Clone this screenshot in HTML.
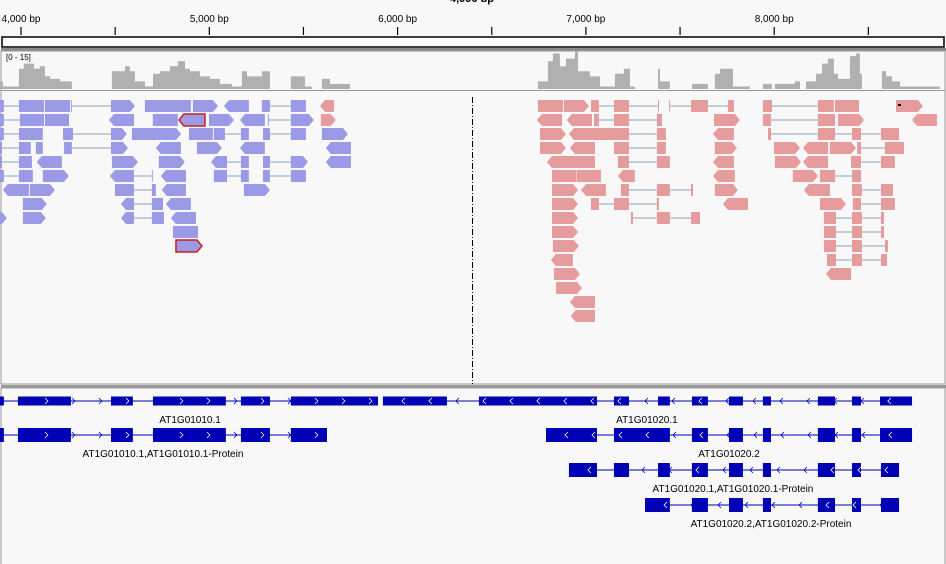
<!DOCTYPE html>
<html><head><meta charset="utf-8">
<style>
html,body{margin:0;padding:0;background:#f8f8f8;}
#wrap{position:relative;width:946px;height:564px;overflow:hidden;background:#f8f8f8;font-family:"Liberation Sans",sans-serif;}
svg{position:absolute;left:0;top:0;}
</style></head>
<body>
<div id="wrap">
<svg id="chart" width="946" height="564"></svg>
</div>
<script>
// ---- data ----
const tickBp = [4000,4500,5000,5500,6000,6500,7000,7500,8000,8500];
const tickLabels = {4000:"4,000 bp",5000:"5,000 bp",6000:"6,000 bp",7000:"7,000 bp",8000:"8,000 bp"};
const covMax = 15;
const coverage = [[3888,3],[3904,1],[3989,8],[4015,10],[4069,8],[4100,9],[4127,5],[4154,4],[4207,3],[4270,0],[4483,7],[4552,9],[4578,7],[4605,3],[4658,1],[4701,6],[4738,7],[4791,9],[4833,11],[4871,8],[4897,7],[4950,5],[5003,4],[5056,2],[5120,1],[5173,7],[5200,5],[5279,7],[5322,0],[5433,5],[5508,1],[5545,0],[5598,4],[5641,2],[5747,0],[6745,3],[6798,11],[6825,14],[6862,9],[6894,12],[6942,15],[6958,7],[7021,5],[7075,1],[7154,6],[7202,8],[7234,1],[7260,0],[7383,8],[7393,3],[7446,0],[7563,2],[7648,0],[7685,6],[7712,8],[7781,1],[7871,0],[7940,2],[7988,0],[8004,2],[8110,3],[8137,0],[8169,3],[8222,6],[8254,10],[8285,12],[8317,6],[8339,4],[8402,13],[8434,14],[8455,6],[8466,0],[8572,7],[8594,5],[8626,3],[8668,1],[8880,0]];
// reads: [row, strand, colour(b=blue,p=pink,r=red-outlined), blocks...]
const reads = [
[0,'','b',[3888,3909,3989,4122]],[0,'','b',[4127,4260]],[0,'+','b',[4265,4270,4478,4605]],[0,'','b',[4658,4902]],[0,'+','b',[4913,5046]],[0,'-','b',[5078,5210]],[0,'','b',[5279,5322,5433,5513]],[0,'-','p',[5588,5662]],
[1,'','b',[3888,3909,3994,4122]],[1,'','b',[4127,4255]],[1,'-','b',[4467,4600]],[1,'','b',[4700,4833]],[1,'-','r',[4839,4977]],[1,'+','b',[4998,5131]],[1,'-','b',[5163,5295]],[1,'+','b',[5311,5316,5433,5555]],[1,'+','p',[5593,5672]],
[2,'','b',[3888,3909,3989,4116]],[2,'+','b',[4223,4276,4478,4562]],[2,'+','b',[4589,4850]],[2,'','b',[4892,5019]],[2,'','b',[5024,5083,5168,5210]],[2,'','b',[5285,5322,5433,5513]],[2,'+','b',[5598,5736]],
[3,'','b',[3888,3899,3989,4052]],[3,'','b',[4079,4116]],[3,'+','b',[4228,4270,4478,4568]],[3,'-','b',[4716,4849]],[3,'+','b',[4934,5067]],[3,'-','b',[5163,5295]],[3,'-','b',[5619,5752]],
[4,'','b',[3888,3899,3989,4058]],[4,'-','b',[4084,4217]],[4,'+','b',[4483,4621]],[4,'+','b',[4732,4870]],[4,'-','b',[5009,5094,5168,5210]],[4,'+','b',[5285,5322,5433,5524]],[4,'-','b',[5619,5752]],
[5,'','b',[3888,3909,3989,4063]],[5,'+','b',[4116,4254]],[5,'-','b',[4472,4600,4695,4700]],[5,'-','b',[4743,4876]],[5,'','b',[5024,5094,5168,5210]],[5,'','b',[5285,5322,5433,5513]],
[6,'-','b',[3904,4042]],[6,'+','b',[4047,4180]],[6,'','b',[4499,4600,4695,4716]],[6,'-','b',[4748,4876]],[6,'+','b',[5184,5322]],
[7,'+','b',[4010,4137]],[7,'-','b',[4531,4600,4695,4754]],[7,'-','b',[4770,4902]],
[8,'+','b',[3888,3925]],[8,'+','b',[4010,4132]],[8,'-','b',[4531,4600,4695,4759]],[8,'-','b',[4796,4929]],
[9,'','b',[4807,4940]],
[10,'+','r',[4823,4961]],
[0,'','p',[6745,6878]],[0,'+','p',[6883,7016]],[0,'','p',[7027,7069,7149,7229,7383,7388]],[0,'','p',[7441,7446,7558,7648,7754,7786]],[0,'','p',[7940,7988,8232,8317]],[0,'','p',[8323,8450]],[0,'+','p',[8647,8790]],
[1,'-','p',[6740,6873]],[1,'-','p',[6899,7032]],[1,'','p',[7043,7069,7149,7229,7377,7404]],[1,'+','p',[7680,7818]],[1,'','p',[7940,7983,8232,8323]],[1,'+','p',[8339,8477]],[1,'-','p',[8732,8864]],
[2,'+','p',[6756,6894]],[2,'-','p',[6910,7229,7377,7425]],[2,'-','p',[7675,7786]],[2,'','p',[7967,7983,8232,8323,8413,8461,8567,8663]],
[3,'+','p',[6756,6894]],[3,'-','p',[6915,7048]],[3,'','p',[7149,7229,7377,7425]],[3,'+','p',[7685,7802]],[3,'+','p',[7999,8137]],[3,'-','p',[8153,8286]],[3,'+','p',[8296,8434]],[3,'','p',[8440,8461,8588,8689]],
[4,'-','p',[6793,7048]],[4,'','p',[7170,7229,7377,7446]],[4,'-','p',[7675,7786]],[4,'+','p',[8004,8142]],[4,'-','p',[8153,8286]],[4,'','p',[8408,8461,8567,8641]],
[5,'','p',[6820,6947]],[5,'','p',[6950,7080]],[5,'-','p',[7170,7260]],[5,'-','p',[7675,7791]],[5,'+','p',[8099,8232]],[5,'','p',[8243,8323,8413,8461]],
[6,'+','p',[6820,6958]],[6,'-','p',[6974,7106]],[6,'','p',[7186,7229,7377,7446,7558,7569]],[6,'+','p',[7685,7807]],[6,'-','p',[8158,8296]],[6,'','p',[8413,8466,8567,8631]],
[7,'+','p',[6820,6958]],[7,'','p',[7027,7069,7149,7229,7377,7388]],[7,'-','p',[7728,7861]],[7,'+','p',[8243,8381]],[7,'','p',[8418,8461,8567,8641]],
[8,'+','p',[6820,6958]],[8,'','p',[7239,7250,7377,7446,7558,7606]],[8,'','p',[8264,8328,8413,8466,8567,8583]],
[9,'+','p',[6820,6958]],[9,'','p',[8264,8328,8413,8466,8567,8583]],
[10,'+','p',[6825,6963]],[10,'','p',[8264,8328,8413,8466,8588,8604]],
[11,'-','p',[6814,6931]],[11,'','p',[8280,8328,8413,8466,8567,8599]],
[12,'+','p',[6830,6968]],[12,'-','p',[8275,8408]],
[13,'+','p',[6841,6979]],
[14,'-','p',[6915,7048]],
[15,'-','p',[6920,7048]]
];
// gene transcripts: [y, height, strand, exons, label, labelCenterBp, labelY]
const genes = [
[401,9,'+',[3888,3909,3984,4265,4478,4594,4701,5088,5168,5322,5433,5896],"AT1G01010.1",4898,423],
[401,9,'-',[5922,6262,6432,7059,7149,7229,7383,7446,7563,7648,7760,7834,7940,7983,8232,8323,8413,8461,8562,8732],"AT1G01020.1",7324,423],
[435,14,'+',[3888,3909,3984,4265,4478,4594,4701,5088,5168,5322,5433,5625],"AT1G01010.1,AT1G01010.1-Protein",4754,457],
[435,14,'-',[6788,7059,7149,7446,7563,7648,7760,7834,7940,7983,8232,8323,8413,8461,8562,8732],"AT1G01020.2",7760,457],
[470,14,'-',[6910,7059,7149,7229,7383,7446,7563,7648,7760,7834,7940,7983,8232,8323,8413,8461,8567,8663],"AT1G01020.1,AT1G01020.1-Protein",7781,492],
[505,14,'-',[7314,7446,7563,7648,7760,7834,7940,7983,8232,8323,8413,8461,8567,8663],"AT1G01020.2,AT1G01020.2-Protein",7983,527]
];
// ---- scales ----
const X = bp => 21 + (bp-4000)*0.1883;
const covY = d => 89 - d/covMax*38;
const rowY = r => 100 + r*14;

const svg = document.getElementById('chart');
const NS='http://www.w3.org/2000/svg';
function mk(tag, attrs, parent){const e=document.createElementNS(NS,tag);for(const k in attrs)e.setAttribute(k,attrs[k]);(parent||svg).appendChild(e);return e;}

// frame
let e;
e=mk('rect',{x:2,y:37,width:942,height:10,fill:'#fafafa',stroke:'#000','stroke-width':1.5});


e=mk('rect',{x:1,y:48,width:945,height:3,fill:'#8a8a8a'});


e=mk('rect',{x:1,y:51,width:944,height:333,fill:'none',stroke:'#9a9a9a','stroke-width':1});


e=mk('line',{x1:1,y1:90.5,x2:945,y2:90.5,stroke:'#9a9a9a'});


e=mk('rect',{x:1,y:385,width:945,height:3,fill:'#9a9a9a'});


e=mk('rect',{x:1,y:388,width:944,height:180,fill:'none',stroke:'#9a9a9a'});


e=mk('line',{x1:472.5,y1:97,x2:472.5,y2:384,stroke:'#000','stroke-dasharray':'6,2,1,2'});



// locus title
e=mk('text',{x:472,y:2,'font-size':11,'font-weight':'bold','text-anchor':'middle',fill:'#000'});
e.textContent='4,996 bp';



// ticks
tickBp.forEach(b=>{
  const t=mk('line',{x1:X(b),y1:27,x2:X(b),y2:35,stroke:'#000','stroke-width':1.2});
  
  
  if(tickLabels[b]){
    const l=mk('text',{x:X(b),y:22,'font-size':10,'text-anchor':'middle',fill:'#000'});
    l.textContent=tickLabels[b];
    
    
  }
});

// coverage
e=mk('text',{x:6,y:60,'font-size':8,fill:'#000'});
e.textContent='[0 - 15]';


let pts=[];
for(let i=0;i<coverage.length-1;i++){
  const x0=X(coverage[i][0]),x1=X(coverage[i+1][0]),y=covY(coverage[i][1]);
  pts.push(x0+','+89,x0+','+y,x1+','+y,x1+','+89);
}
e=mk('polygon',{points:pts.join(' '),fill:'#b0b0b0'});



// reads
const fill={b:'#9a9ae6',p:'#e69b9c',r:'#9a9ae6'};
reads.forEach(rd=>{
  const [row,strand,col,bl]=rd;
  const y=rowY(row),h=12;
  const g=mk('g',{});
  
  
  for(let i=0;i+3<bl.length;i+=2){
    mk('line',{x1:X(bl[i+1]),y1:y+h/2,x2:X(bl[i+2]),y2:y+h/2,stroke:'#8aa6b8','stroke-width':1},g);
  }
  const n=bl.length/2;
  for(let i=0;i<n;i++){
    const a=X(bl[2*i]),b=X(bl[2*i+1]);
    let p;
    if(strand==='+'&&i===n-1&&b-a>6) p=`${a},${y} ${b-5},${y} ${b},${y+h/2} ${b-5},${y+h} ${a},${y+h}`;
    else if(strand==='-'&&i===0&&b-a>6) p=`${a+5},${y} ${b},${y} ${b},${y+h} ${a+5},${y+h} ${a},${y+h/2}`;
    else p=`${a},${y} ${b},${y} ${b},${y+h} ${a},${y+h}`;
    const attrs={points:p,fill:fill[col]};
    if(col==='r'){attrs.stroke='#cc1f1f';attrs['stroke-width']=1.5;}
    mk('polygon',attrs,g);
  }
});

// genes
genes.forEach(gn=>{
  const [yc,h,strand,ex,label,lc,ly]=gn;
  const g=mk('g',{});
  
  
  const s=X(ex[0]),en=X(ex[ex.length-1]);
  mk('line',{x1:s,y1:yc,x2:en,y2:yc,stroke:'#0000b4','stroke-width':1},g);
  const rects=[];
  for(let i=0;i<ex.length;i+=2){
    const a=X(ex[i]),b=X(ex[i+1]);rects.push([a,b]);
    mk('rect',{x:a,y:yc-h/2,width:b-a,height:h,fill:'#0000b4'},g);
  }
  for(let x=s+20;x<en-4;x+=27){
    const inside=rects.some(r=>x>r[0]+2&&x<r[1]-2);
    const d=strand==='+'?`M${x-2},${yc-3} L${x+1},${yc} L${x-2},${yc+3}`:`M${x+2},${yc-3} L${x-1},${yc} L${x+2},${yc+3}`;
    mk('path',{d:d,fill:'none',stroke:inside?'#fff':'#0000b4','stroke-width':0.8},g);
  }
  const t=mk('text',{x:X(lc),y:ly,'font-size':10,'text-anchor':'middle',fill:'#000'});
  t.textContent=label;
  
  
});
// black dot in a read
e=mk('rect',{x:898,y:104,width:3,height:2,fill:'#000'});


</script>
</body></html>
